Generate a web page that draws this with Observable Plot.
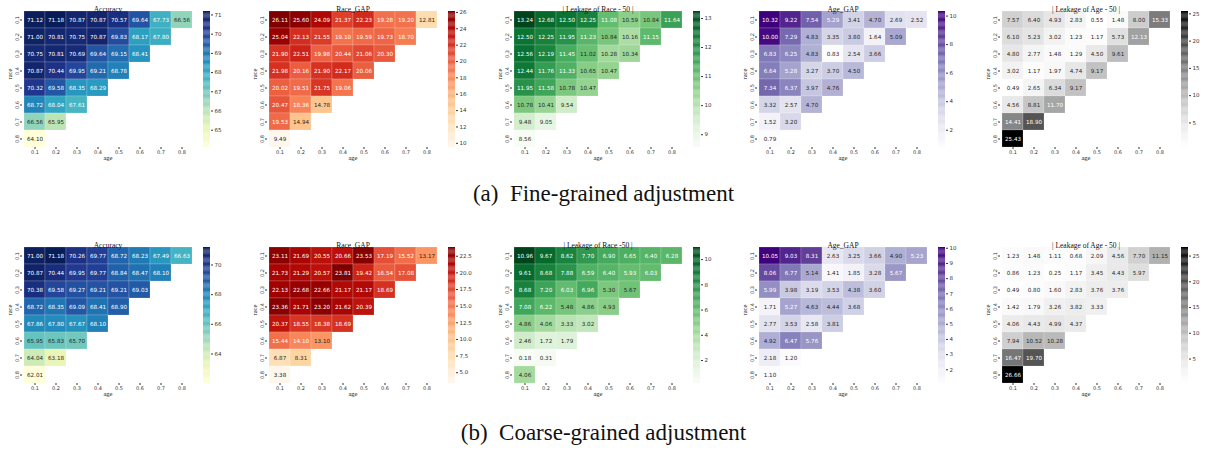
<!DOCTYPE html>
<html>
<head>
<meta charset="utf-8">
<script src="https://cdn.jsdelivr.net/npm/d3@7"></script>
<script src="https://cdn.jsdelivr.net/npm/@observablehq/plot@0.6"></script>
<style>
  html, body { margin: 0; padding: 0; background: #fff; }
  #root { position: relative; width: 1207px; height: 450px; overflow: hidden; font-family: "DejaVu Sans", sans-serif; }
  .panel { position: absolute; width: 240px; height: 170px; }
  .panel svg { position: absolute; overflow: visible; max-width: none !important; }
  .caption { position: absolute; font-family: "Liberation Serif", "Times New Roman", serif; font-size: 23px; color: #111; white-space: pre; }
  #err { position: absolute; left: 0; top: 0; font-size: 10px; color: red; }
</style>
</head>
<body>
<div id="root"></div>
<script>
// ---------------- data ----------------
const race = ["0.1", "0.2", "0.3", "0.4", "0.5", "0.6", "0.7", "0.8"];
const age = ["0.1", "0.2", "0.3", "0.4", "0.5", "0.6", "0.7", "0.8"];

const titles = ["Accuracy", "Race_GAP", "| Leakage of Race - 50 |", "Age_GAP", "| Leakage of Age - 50 |"];
const titlesCoarse = ["Accuracy", "Race_GAP", "| Leakage of Race -50 |", "Age_GAP", "| Leakage of Age - 50 |"];
const schemes = ["ylgnbu", "orrd", "greens", "purples", "greys"];
const captions = ["(a)  Fine-grained adjustment", "(b)  Coarse-grained adjustment"];

// (a) fine-grained: rows = race 0.1..0.8, columns = age 0.1..
const accFine = [
  [71.12, 71.18, 70.87, 70.87, 70.57, 69.64, 67.73, 66.56],
  [71.00, 70.81, 70.75, 70.87, 69.83, 68.17, 67.80],
  [70.75, 70.81, 70.69, 69.64, 69.15, 68.41],
  [70.87, 70.44, 69.95, 69.21, 68.78],
  [70.32, 69.58, 68.35, 68.29],
  [68.72, 68.04, 67.61],
  [66.56, 65.95],
  [64.10]
];
const raceGapFine = [
  [26.11, 25.60, 24.09, 21.37, 22.23, 19.28, 19.20, 12.81],
  [25.04, 22.13, 21.55, 19.10, 19.59, 19.73, 18.70],
  [21.90, 22.51, 19.98, 20.44, 21.06, 20.30],
  [21.98, 20.16, 21.90, 22.17, 20.06],
  [20.02, 19.51, 21.75, 19.06],
  [20.47, 18.36, 14.78],
  [19.53, 14.94],
  [9.49]
];
const leakRaceFine = [
  [13.24, 12.68, 12.50, 12.25, 11.08, 10.59, 10.84, 11.64],
  [12.50, 12.25, 11.95, 11.23, 10.84, 10.16, 11.15],
  [12.56, 12.19, 11.45, 11.02, 10.28, 10.34],
  [12.44, 11.76, 11.33, 10.65, 10.47],
  [11.95, 11.58, 10.78, 10.47],
  [10.78, 10.41, 9.54],
  [9.48, 9.05],
  [8.56]
];
const ageGapFine = [
  [10.32, 9.22, 7.54, 5.29, 3.41, 4.70, 2.69, 2.52],
  [10.00, 7.29, 4.83, 3.35, 3.80, 1.64, 5.09],
  [6.83, 6.25, 4.83, 0.83, 2.54, 3.66],
  [6.64, 5.28, 3.27, 3.70, 4.50],
  [7.34, 6.37, 3.97, 4.76],
  [3.32, 2.57, 4.70],
  [1.52, 3.20],
  [0.79]
];
const leakAgeFine = [
  [7.57, 6.40, 4.93, 2.83, 0.55, 1.48, 8.00, 15.33],
  [6.10, 5.23, 3.02, 1.23, 1.17, 5.73, 12.13],
  [4.80, 2.77, 1.48, 1.29, 4.50, 9.61],
  [3.02, 1.17, 1.97, 4.74, 9.17],
  [0.49, 2.65, 6.34, 9.17],
  [4.56, 8.81, 11.70],
  [14.41, 18.90],
  [25.43]
];

// (b) coarse-grained
const accCoarse = [
  [71.00, 71.18, 70.26, 69.77, 68.72, 68.23, 67.49, 66.63],
  [70.87, 70.44, 69.95, 69.77, 68.84, 68.47, 68.10],
  [70.38, 69.58, 69.27, 69.21, 69.21, 69.03],
  [68.72, 68.35, 69.09, 68.41, 68.90],
  [67.86, 67.80, 67.67, 68.10],
  [65.95, 65.83, 65.70],
  [64.04, 63.18],
  [62.01]
];
const raceGapCoarse = [
  [23.11, 21.69, 20.55, 20.66, 23.53, 17.19, 15.52, 13.17],
  [21.73, 21.29, 20.57, 23.81, 19.42, 16.54, 17.08],
  [22.13, 22.68, 22.66, 21.17, 21.17, 18.69],
  [23.36, 21.71, 23.20, 21.62, 20.39],
  [20.37, 18.55, 18.38, 18.69],
  [15.44, 14.10, 13.10],
  [6.87, 8.31],
  [3.38]
];
const leakRaceCoarse = [
  [10.96, 9.67, 8.62, 7.70, 6.90, 6.65, 6.40, 6.28],
  [9.61, 8.68, 7.88, 6.59, 6.40, 5.93, 6.03],
  [8.68, 7.20, 6.03, 6.96, 5.30, 5.67],
  [7.08, 6.22, 5.48, 4.86, 4.93],
  [4.86, 4.06, 3.33, 3.02],
  [2.46, 1.72, 1.79],
  [0.18, 0.31],
  [4.06]
];
const ageGapCoarse = [
  [10.05, 9.03, 8.31, 2.63, 3.25, 3.66, 4.90, 5.23],
  [8.06, 6.77, 5.14, 1.41, 1.85, 3.28, 5.67],
  [5.99, 3.98, 3.19, 3.53, 4.38, 3.60],
  [1.71, 5.27, 4.63, 4.44, 3.68],
  [2.77, 3.53, 2.58, 3.81],
  [4.92, 6.47, 5.76],
  [2.18, 1.20],
  [1.10]
];
const leakAgeCoarse = [
  [1.23, 1.48, 1.11, 0.68, 2.09, 4.56, 7.70, 11.15],
  [0.86, 1.23, 0.25, 1.17, 3.45, 4.43, 5.97],
  [0.49, 0.80, 1.60, 2.83, 3.76, 3.76],
  [1.42, 1.79, 3.26, 3.82, 3.33],
  [4.06, 4.43, 4.99, 4.37],
  [7.94, 10.52, 10.28],
  [16.47, 19.70],
  [26.66]
];

// colorbar tick values
const ticksFine = [
  [65, 66, 67, 68, 69, 70, 71],
  [10, 12, 14, 16, 18, 20, 22, 24, 26],
  [9, 10, 11, 12, 13],
  [2, 4, 6, 8, 10],
  [5, 10, 15, 20, 25]
];
const ticksCoarse = [
  [64, 66, 68, 70],
  [5, 7.5, 10, 12.5, 15, 17.5, 20, 22.5],
  [2, 4, 6, 8, 10],
  [2, 3, 4, 5, 6, 7, 8, 9, 10],
  [5, 10, 15, 20, 25]
];

const fineSets = [accFine, raceGapFine, leakRaceFine, ageGapFine, leakAgeFine];
const coarseSets = [accCoarse, raceGapCoarse, leakRaceCoarse, ageGapCoarse, leakAgeCoarse];

// ---------------- drawing ----------------
const root = document.getElementById("root");
const panelX = [0, 245, 490, 735, 978];
const rowY = [0, 236];
const W = 200, H = 160, ML = 22, MR = 7, MT = 11, MB = 13;
const interpNames = {ylgnbu: "YlGnBu", orrd: "OrRd", greens: "Greens", purples: "Purples", greys: "Greys"};

function luminance(c) {
  const rgb = d3.rgb(c);
  const f = v => { v /= 255; return v <= 0.03928 ? v / 12.92 : Math.pow((v + 0.055) / 1.055, 2.4); };
  return 0.2126 * f(rgb.r) + 0.7152 * f(rgb.g) + 0.0722 * f(rgb.b);
}

function drawPanel(values, title, scheme, ticks, left, top, fmtTick) {
  const cells = [];
  values.forEach((row, i) => row.forEach((v, j) => cells.push({race: race[i], age: age[j], value: v})));
  const ext = d3.extent(cells, d => d.value);
  const interp = d3["interpolate" + interpNames[scheme]];
  const colorOf = v => interp((v - ext[0]) / (ext[1] - ext[0]));

  const div = document.createElement("div");
  div.className = "panel";
  div.style.left = left + "px";
  div.style.top = top + "px";
  root.appendChild(div);

  const heat = Plot.plot({
    width: W, height: H,
    marginLeft: ML, marginRight: MR, marginTop: MT, marginBottom: MB,
    style: {fontFamily: "DejaVu Sans", fontSize: "5px", color: "#333", background: "transparent", overflow: "visible"},
    x: {type: "band", domain: age, padding: 0, axis: "bottom", tickSize: 2, tickPadding: 1, label: null},
    y: {type: "band", domain: race, padding: 0, axis: "left", tickSize: 2, tickPadding: 1.5, tickRotate: -90, label: null},
    color: {type: "linear", scheme: scheme, domain: ext},
    marks: [
      Plot.cell(cells, {x: "age", y: "race", fill: "value", inset: 0, stroke: "white", strokeOpacity: 0.35, strokeWidth: 0.5}),
      Plot.text(cells, {x: "age", y: "race", text: d => d.value.toFixed(2),
        fill: d => luminance(colorOf(d.value)) > 0.408 ? "#262626" : "#ffffff",
        fontSize: 5.6, fontFamily: "DejaVu Sans"}),
      Plot.text([title], {frameAnchor: "top", dy: -5, fontFamily: "Liberation Serif", fontSize: 7.5, fill: "#111"}),
      Plot.text(["age"], {frameAnchor: "bottom", dy: 12.5, fontFamily: "Liberation Serif", fontSize: 6.5, fill: "#111"}),
      Plot.text(["race"], {frameAnchor: "left", dx: -12.5, rotate: -90, fontFamily: "Liberation Serif", fontSize: 6.5, fill: "#111"})
    ]
  });
  heat.style.left = "0px";
  heat.style.top = "0px";
  div.appendChild(heat);

  // colorbar
  const n = 120;
  const step = (ext[1] - ext[0]) / n;
  const steps = d3.range(n).map(i => ext[0] + i * step);
  const bar = Plot.plot({
    width: 40, height: H,
    marginLeft: 5, marginRight: 28, marginTop: MT, marginBottom: MB,
    style: {fontFamily: "DejaVu Sans", fontSize: "5.5px", color: "#333", background: "transparent", overflow: "visible"},
    x: {domain: [0, 1], axis: null},
    y: {domain: ext, axis: "right", ticks: ticks, tickSize: 2, tickPadding: 2, label: null, tickFormat: fmtTick},
    color: {type: "linear", scheme: scheme, domain: ext},
    marks: [
      Plot.rect(steps, {x1: 0, x2: 1, y1: d => d, y2: d => Math.min(d + step * 1.02, ext[1]), fill: d => d + step / 2})
    ]
  });
  bar.style.left = "198px";
  bar.style.top = "0px";
  div.appendChild(bar);
}

try {
  fineSets.forEach((vals, k) => drawPanel(vals, titles[k], schemes[k], ticksFine[k], panelX[k], rowY[0], d => String(d)));
  coarseSets.forEach((vals, k) => drawPanel(vals, titlesCoarse[k], schemes[k], ticksCoarse[k], panelX[k], rowY[1],
    k === 1 ? d => d.toFixed(1) : d => String(d)));
} catch (e) {
  const el = document.createElement("div");
  el.id = "err";
  el.textContent = String(e && e.stack || e);
  root.appendChild(el);
}

captions.forEach((c, i) => {
  const el = document.createElement("div");
  el.className = "caption";
  el.textContent = c;
  el.style.top = (i === 0 ? 181 : 420) + "px";
  el.style.left = "0px";
  el.style.width = "1207px";
  el.style.textAlign = "center";
  root.appendChild(el);
});
</script>
</body>
</html>
